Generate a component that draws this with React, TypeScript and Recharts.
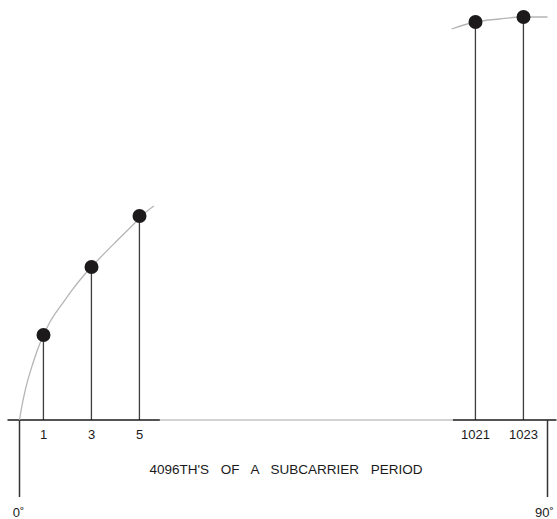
import React from "react";
import {
  ComposedChart,
  Bar,
  Line,
  Scatter,
  XAxis,
  YAxis,
  ReferenceLine,
  Label,
} from "recharts";

// samples, in 4096ths of a subcarrier period
const SAMPLE_N = [1, 3, 5, 1021, 1023];
const SAMPLE_VALUES = [0.2125, 0.3825, 0.51, 0.995, 1.0075];

// the grey sine sketch
const CURVE_LOW_N = [0, 0.1, 0.23, 0.56, 0.94, 1.27, 1.81, 2.23, 2.73, 3.35, 4.06, 4.6, 5.31, 5.6];
const CURVE_LOW_VALUES = [0, 0.035, 0.072, 0.142, 0.205, 0.245, 0.293, 0.328, 0.365, 0.405, 0.448, 0.48, 0.522, 0.535];
const CURVE_HIGH_N = [1020, 1021, 1022, 1023, 1024];
const CURVE_HIGH_VALUES = [0.9775, 0.995, 1.0025, 1.0075, 1.0075];

const DEGREE_N = [0, 1024];
const DEGREE_LABELS = ["0˚", "90˚"];

// broken axis: everything past the break is pulled left
const BREAK_AT = 512;
const BREAK_SHIFT = 1002;
const DISPLAY_BREAK = 12;
const pos = (n: number) => (n > BREAK_AT ? n - BREAK_SHIFT : n);
const unpos = (v: number) => (v > DISPLAY_BREAK ? v + BREAK_SHIFT : v);

const samples = SAMPLE_N.map((n, i) => ({ x: pos(n), y: SAMPLE_VALUES[i] }));
const curveLow = CURVE_LOW_N.map((n, i) => ({ x: pos(n), y: CURVE_LOW_VALUES[i] }));
const curveHigh = CURVE_HIGH_N.map((n, i) => ({ x: pos(n), y: CURVE_HIGH_VALUES[i] }));

const X_TICKS = [...DEGREE_N, ...SAMPLE_N].map(pos).sort((a, b) => a - b);
const X_DOMAIN: [number, number] = [-0.5, 22.375];
const FONT = "'Liberation Sans', Arial, Helvetica, sans-serif";

const Dot = (props: any) => <circle cx={props.cx} cy={props.cy} r={7} fill="#1c1a1b" />;

// sample numbers sit under the axis, the degree marks further down
const AxisTick = (props: any) => {
  const { x, y, payload } = props;
  const n = unpos(payload.value);
  const d = DEGREE_N.indexOf(n);
  const isDeg = d >= 0;
  return (
    <text
      x={isDeg ? x + (d === DEGREE_N.length - 1 ? -3 : -1) : x}
      y={isDeg ? y + 78 : y}
      dy="0.71em"
      textAnchor="middle"
      fill="#1a1a1a"
      fontSize={13}
      fontFamily={FONT}
    >
      {isDeg ? DEGREE_LABELS[d] : String(n)}
    </text>
  );
};

export default function App() {
  return (
    <div style={{ position: "absolute", left: 0, top: 0, background: "#fff", fontFamily: FONT }}>
      <ComposedChart
        width={557}
        height={519}
        data={samples}
        margin={{ top: 0, right: 0.5, left: 7.5, bottom: 0 }}
      >
        <XAxis
          dataKey="x"
          type="number"
          domain={X_DOMAIN}
          allowDataOverflow
          ticks={X_TICKS}
          axisLine={false}
          tickLine={false}
          tickSize={0}
          tickMargin={10}
          height={99}
          interval={0}
          tick={<AxisTick />}
        >
          <Label
            value="4096TH'S OF A SUBCARRIER PERIOD"
            position="insideTop"
            offset={44}
            dx={4}
            fill="#1a1a1a"
            fontSize={13.5}
            fontFamily={FONT}
            style={{ wordSpacing: 8 }}
          />
        </XAxis>
        <YAxis hide domain={[0, 1.05]} allowDataOverflow />

        {/* baseline, black at both ends, grey across the gap */}
        <ReferenceLine segment={[{ x: -0.5, y: 0 }, { x: 5.85, y: 0 }]} stroke="#1a1a1a" strokeWidth={1.5} />
        <ReferenceLine segment={[{ x: 5.85, y: 0 }, { x: 18.06, y: 0 }]} stroke="#c4c4c4" strokeWidth={1.5} />
        <ReferenceLine segment={[{ x: 18.06, y: 0 }, { x: 22.375, y: 0 }]} stroke="#1a1a1a" strokeWidth={1.5} />

        {/* 0 and 90 degree markers below the axis */}
        {DEGREE_N.map((n) => (
          <ReferenceLine
            key={n}
            segment={[{ x: pos(n), y: 0 }, { x: pos(n), y: -0.1925 }]}
            stroke="#333"
            strokeWidth={1.5}
            ifOverflow="visible"
          />
        ))}

        <Line data={curveLow} dataKey="y" type="monotone" stroke="#b5b5b5" strokeWidth={1.3} dot={false} isAnimationActive={false} />
        <Line data={curveHigh} dataKey="y" type="monotone" stroke="#b5b5b5" strokeWidth={1.3} dot={false} isAnimationActive={false} />
        <Bar dataKey="y" barSize={2} fill="#3d3d3d" isAnimationActive={false} />
        <Scatter data={samples} dataKey="y" shape={<Dot />} isAnimationActive={false} />
      </ComposedChart>
    </div>
  );
}
